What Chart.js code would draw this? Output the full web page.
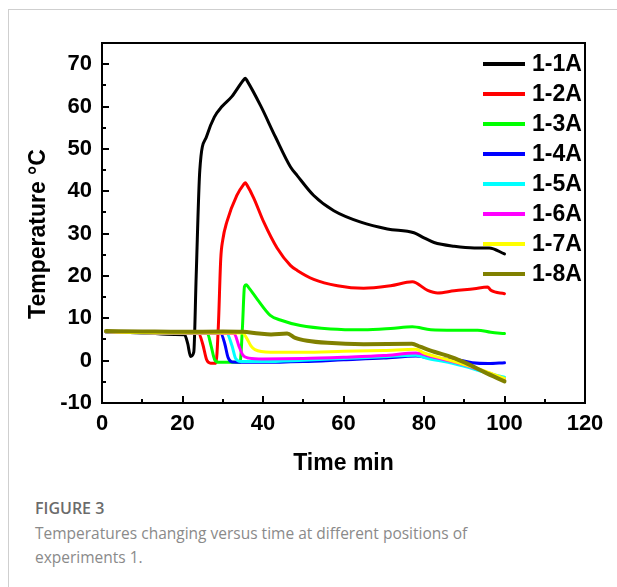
<!DOCTYPE html>
<html>
<head>
<meta charset="utf-8">
<script src="https://cdn.jsdelivr.net/npm/chart.js@4.4.1/dist/chart.umd.min.js"></script>
<style>
    body { margin: 0; background: #fff; }
    #wrap { position: relative; width: 617px; height: 587px; overflow: hidden; }
    #frame { position: absolute; left: 8px; top: 9px; right: 0; bottom: 0; border-top: 1px solid #cfcfcf; border-left: 1px solid #cfcfcf; }
    #dvCanvas { position: absolute; left: 0; top: 0; }
    .cap { position: absolute; left: 35px; font-family: "Open Sans", sans-serif; }
    #capTitle { top: 496px; line-height: 24px; font-size: 16px; color: #6b6b6b; font-weight: 600; }
    #capText { top: 521px; line-height: 24px; font-size: 15.5px; color: #8a8a8a; width: 560px; }
</style>
</head>
<body>
<div id="wrap">
    <div id="frame"></div>
    <canvas id="dvCanvas" width="617" height="480"></canvas>
    <div class="cap" id="capTitle">FIGURE 3</div>
    <div class="cap" id="capText">Temperatures changing versus time at different positions of<br>experiments 1.</div>
</div>
<script>
    // series names and colours
    var names = ['1-1A', '1-2A', '1-3A', '1-4A', '1-5A', '1-6A', '1-7A', '1-8A'];
    var colors = ['#000000', '#ff0000', '#00ff00', '#0000ff', '#00ffff', '#ff00ff', '#ffff00', '#808000'];

    // tick labels
    var xTicks = [0, 20, 40, 60, 80, 100, 120];
    var yTicks = [-10, 0, 10, 20, 30, 40, 50, 60, 70];

    // [time min, temperature]
    var s11A = [[1, 6.8], [10, 6.6], [18, 6.2], [20.5, 6.1], [21.3, 4], [22, 1], [22.8, 2], [23.4, 20], [24.3, 45],
        [26, 53], [27.9, 57.5], [29.8, 60], [32.3, 62.4], [35.1, 66.2], [35.6, 66.7], [36.1, 66], [39.4, 60.2],
        [43.1, 52.8], [46.8, 45.8], [48.5, 43.7], [52.6, 39], [57.6, 35.4], [64.3, 32.7], [70.9, 31.1],
        [77.5, 30.2], [80, 29], [82.5, 27.9], [87.5, 27], [92.5, 26.6], [96.2, 26.6], [100, 25.2]];
    var s12A = [[1, 6.8], [10, 6.6], [20, 6.5], [24, 6.4], [25, 4], [26, 0.2], [27, -0.6], [28.3, -0.6], [28.9, 8],
        [29.5, 24], [30, 28.5], [31, 32.7], [33.5, 39], [35.2, 41.6], [35.6, 42], [36, 41.5], [37.7, 38.4],
        [40.2, 32.7], [43.5, 26.6], [46.8, 22.5], [48.5, 21.3], [52.6, 19.2], [58.5, 17.7], [65, 17.1],
        [71.7, 17.7], [77.1, 18.6], [80.9, 16.6], [83.4, 16], [87.5, 16.5], [92.5, 17], [95.8, 17.4],
        [96.6, 16.6], [100, 15.8]];
    var s13A = [[1, 6.8], [10, 6.6], [20, 6.5], [26.2, 6.4], [27.1, 3.5], [28, 0.2], [29, -0.4], [34.3, -0.4],
        [34.9, 8], [35.4, 17.5], [35.8, 17.9], [36.4, 17.3], [38.5, 14.6], [41.8, 10.7], [44.3, 9.6], [49.3, 8.3],
        [56.8, 7.5], [65, 7.3], [71.7, 7.6], [77.1, 8], [81.7, 7.3], [87.5, 7.2], [93.3, 7.2], [96.6, 6.7],
        [100, 6.4]];
    var s14A = [[1, 6.8], [10, 6.6], [20, 6.5], [29.5, 6.4], [30.5, 4], [31.3, 0.8], [32.3, -0.3], [40, -0.4],
        [50, -0.2], [60, 0.2], [70, 0.6], [78, 1.1], [82, 0.6], [86, 0.3], [89, 0.1], [92, -0.5], [96, -0.7],
        [100, -0.5]];
    var s15A = [[1, 6.8], [10, 6.6], [20, 6.5], [31, 6.4], [32.3, 3.5], [33.2, 0.5], [34.5, -0.2], [40, -0.2],
        [50, 0.1], [60, 0.5], [70, 0.9], [78, 1.3], [81, 0.5], [86, -0.4], [91, -1.6], [96, -3], [100, -3.9]];
    var s16A = [[1, 6.8], [10, 6.6], [20, 6.5], [32.8, 6.4], [34, 3.5], [35, 1.3], [36.5, 0.6], [40, 0.4],
        [50, 0.5], [60, 0.8], [70, 1.2], [78, 1.8], [82, 0.9], [86, 0], [91, -1.3], [96, -2.9], [100, -4.3]];
    var s17A = [[1, 6.8], [10, 6.6], [20, 6.5], [35, 6.5], [36, 5.2], [37, 3.5], [38, 2.6], [41.8, 2],
        [50, 2], [60, 2.2], [70, 2.4], [78, 2.7], [80, 1.8], [86, 0.2], [90, -0.9], [95, -2.4], [100, -4.2]];
    var s18A = [[1, 7], [10, 6.9], [20, 6.8], [30, 6.9], [35, 6.8], [39, 6.4], [42, 6.2], [46, 6.4], [48, 5.4],
        [51, 4.7], [56, 4.2], [65, 3.9], [77, 4], [79, 3.3], [82.5, 2.1], [87, 0.8], [90.5, -0.6], [95, -2.7],
        [100, -4.9]];

    var series = [s11A, s12A, s13A, s14A, s15A, s16A, s17A, s18A];

    var datasets = series.map(function (s, i) {
        return {
            label: names[i],
            data: s.map(function (p) { return { x: p[0], y: p[1] }; }),
            borderColor: colors[i],
            borderWidth: i === 7 ? 4 : 3,
            pointRadius: 0,
            cubicInterpolationMode: 'monotone',
            borderCapStyle: 'round',
            borderJoinStyle: 'round',
            fill: false,
            order: 8 - i
        };
    });

    var fontFamily = '"Liberation Sans", Arial, sans-serif';

    //frame, inward ticks, y title and legend inside the plot
    var decor = {
        id: 'decor',
        afterDraw: function (chart) {
            var ctx = chart.ctx, a = chart.chartArea, x = chart.scales.x, y = chart.scales.y;
            ctx.save();
            ctx.strokeStyle = '#000';
            ctx.lineWidth = 2;
            ctx.strokeRect(a.left, a.top, a.right - a.left, a.bottom - a.top);
            ctx.beginPath();
            for (var v = xTicks[0]; v <= xTicks[xTicks.length - 1]; v += 10) {
                var px = Math.round(x.getPixelForValue(v));
                var len = (v % 20 === 0) ? 7 : 4;
                ctx.moveTo(px, a.bottom);
                ctx.lineTo(px, a.bottom - len);
            }
            for (var w = yTicks[0]; w <= 75; w += 5) {
                var py = Math.round(y.getPixelForValue(w));
                var l = (w % 10 === 0) ? 7 : 4;
                ctx.moveTo(a.left, py);
                ctx.lineTo(a.left + l, py);
            }
            ctx.stroke();

            // y title
            ctx.save();
            ctx.translate(39, 234);
            ctx.rotate(-Math.PI / 2);
            ctx.font = 'bold 23px ' + fontFamily;
            ctx.textAlign = 'center';
            ctx.textBaseline = 'middle';
            ctx.fillStyle = '#000';
            ctx.fillText('Temperature °C', 0, 0);
            ctx.restore();

            ctx.font = 'bold 23px ' + fontFamily;
            ctx.textBaseline = 'middle';
            ctx.fillStyle = '#000';
            chart.data.datasets.forEach(function (ds, i) {
                var ly = a.top + 21 + 30 * i;
                ctx.beginPath();
                ctx.strokeStyle = ds.borderColor;
                ctx.lineWidth = 4;
                ctx.moveTo(a.right - 102, ly);
                ctx.lineTo(a.right - 60, ly);
                ctx.stroke();
                ctx.fillText(ds.label, a.right - 53, ly + 1);
            });
            ctx.restore();
        }
    };

    var tickFont = { family: fontFamily, size: 22, weight: 'bold' };
    var titleFont = { family: fontFamily, size: 23, weight: 'bold' };

    var ctx = document.getElementById('dvCanvas').getContext('2d');
    var myChart = new Chart(ctx, {
        type: 'line',
        data: { datasets: datasets },
        options: {
            responsive: false,
            animation: false,
            devicePixelRatio: 1,
            layout: { padding: { left: 0, top: 43, right: 32, bottom: 0 } },
            plugins: { legend: { display: false }, tooltip: { enabled: false } },
            scales: {
                x: {
                    type: 'linear',
                    min: 0,
                    max: 120,
                    grid: { display: false, drawTicks: false },
                    border: { display: false },
                    afterBuildTicks: function (scale) {
                        scale.ticks = xTicks.map(function (v) { return { value: v }; });
                    },
                    afterFit: function (scale) { scale.height = 77; },
                    ticks: { color: '#000', font: tickFont, padding: 8, maxRotation: 0 },
                    title: { display: true, text: 'Time min', color: '#000', font: titleFont, padding: { top: 0, bottom: 3 } }
                },
                y: {
                    type: 'linear',
                    min: -10,
                    max: 75,
                    grid: { display: false, drawTicks: false },
                    border: { display: false },
                    afterBuildTicks: function (scale) {
                        scale.ticks = yTicks.map(function (v) { return { value: v }; });
                    },
                    afterFit: function (scale) { scale.width = 102; },
                    ticks: { color: '#000', font: tickFont, padding: 10 }
                }
            }
        },
        plugins: [decor]
    });
</script>
</body>
</html>
